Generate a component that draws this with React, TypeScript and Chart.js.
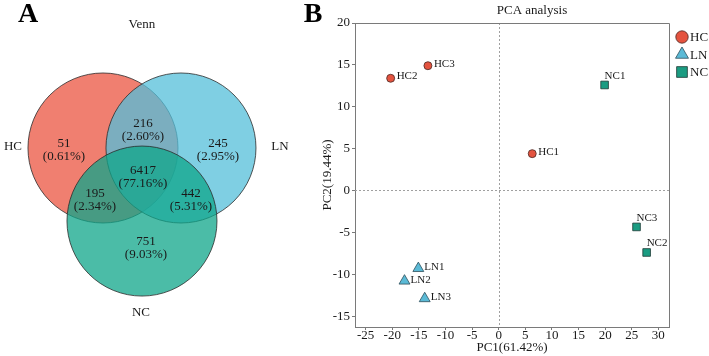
import React, { useEffect, useRef } from 'react';
import { Chart, registerables } from 'chart.js';
import { drawPoint } from 'chart.js/helpers';

Chart.register(...registerables);

const FONT = "'Liberation Serif', 'Times New Roman', serif";
const TEXT = '#1a1a1a';

// ---------------- Venn data ----------------
const vennSets = ['HC', 'LN', 'NC'];
const vennCenterX = [-0.52, 0.52, 0];
const vennCenterY = [0.324, 0.324, -0.65];
const vennRadius = [1, 1, 1];
const vennCounts = [51, 216, 245, 6417, 195, 442, 751];
const vennPercents = ['0.61%', '2.60%', '2.95%', '77.16%', '2.34%', '5.31%', '9.03%'];

// ---------------- PCA data ----------------
const hcNames = ['HC1', 'HC2', 'HC3'];
const hcPC1 = [6.3, -20.3, -13.3];
const hcPC2 = [4.4, 13.4, 14.9];
const lnNames = ['LN1', 'LN2', 'LN3'];
const lnPC1 = [-15.1, -17.7, -13.9];
const lnPC2 = [-9.3, -10.8, -12.9];
const ncNames = ['NC1', 'NC2', 'NC3'];
const ncPC1 = [19.9, 27.8, 25.9];
const ncPC2 = [12.6, -7.4, -4.35];
const xTickStep = 5;
const yTickStep = 5;

// ---------------- layout (positions / styles) ----------------
const vennFill = ['rgba(235,84,64,0.75)', 'rgba(84,191,218,0.75)', 'rgba(15,166,138,0.75)'];
const vennSetLabelPos = [[-1.72, 0.337], [1.84, 0.337], [-0.013, -1.864]];
const vennRegionPos = [
  [-1.04, 0.29], [0.013, 0.564], [1.013, 0.29], [0.013, -0.063],
  [-0.627, -0.369], [0.653, -0.369], [0.053, -1.016],
];

const zip = (xs: number[], ys: number[]) => xs.map((x, i) => ({ x, y: ys[i] }));

function VennChart() {
  const ref = useRef<HTMLCanvasElement>(null);
  useEffect(() => {
    const plugin = {
      id: 'vennText',
      afterDatasetsDraw(chart: any) {
        const { ctx, scales } = chart;
        const X = (v: number) => scales.x.getPixelForValue(v);
        const Y = (v: number) => scales.y.getPixelForValue(v);
        ctx.save();
        ctx.fillStyle = TEXT;
        ctx.textAlign = 'center';
        ctx.textBaseline = 'middle';
        ctx.font = `13px ${FONT}`;
        ctx.fillText('Venn', X(0), Y(1.97));
        vennSets.forEach((s, i) => {
          ctx.fillText(s, X(vennSetLabelPos[i][0]), Y(vennSetLabelPos[i][1]));
        });
        vennCounts.forEach((c, i) => {
          const px = X(vennRegionPos[i][0]);
          const py = Y(vennRegionPos[i][1]);
          ctx.fillText(String(c), px, py - 6.5);
          ctx.fillText(`(${vennPercents[i]})`, px, py + 6.5);
        });
        ctx.font = `bold 28px ${FONT}`;
        ctx.textBaseline = 'alphabetic';
        ctx.fillStyle = '#000';
        ctx.fillText('A', 28, 22);
        ctx.fillText('B', 313, 22);
        ctx.restore();
      },
    };
    const radiusFn = (ctx: any) => {
      const s = ctx.chart.scales.x;
      const r = vennRadius[ctx.dataIndex] ?? 1;
      return Math.abs(s.getPixelForValue(r) - s.getPixelForValue(0));
    };
    const chart = new Chart(ref.current!, {
      type: 'scatter',
      data: {
        datasets: [
          {
            label: 'Venn',
            data: zip(vennCenterX, vennCenterY),
            backgroundColor: vennFill,
            borderColor: '#2b2b2b',
            borderWidth: 0.8,
            pointRadius: radiusFn,
            pointHoverRadius: radiusFn,
          } as any,
        ],
      },
      options: {
        responsive: false,
        animation: false,
        events: [],
        clip: false as any,
        layout: { padding: 0 },
        plugins: { legend: { display: false }, tooltip: { enabled: false }, title: { display: false } },
        scales: {
          x: { type: 'linear', display: false, min: -1.893, max: 2.507 },
          y: { type: 'linear', display: false, min: -2.449, max: 2.297 },
        },
      },
      plugins: [plugin],
    });
    return () => chart.destroy();
  }, []);
  return <canvas ref={ref} width={330} height={356} style={{ position: 'absolute', left: 0, top: 0, width: 330, height: 356 }} />;
}

function PcaChart() {
  const ref = useRef<HTMLCanvasElement>(null);
  useEffect(() => {
    const names = [hcNames, lnNames, ncNames];
    const labelOffset = [[6, -2], [6, -1], [0, -9]];
    const plugin = {
      id: 'pcaExtras',
      beforeDatasetsDraw(chart: any) {
        const { ctx, chartArea: a, scales } = chart;
        const x0 = Math.round(scales.x.getPixelForValue(0)) + 0.5;
        const y0 = Math.round(scales.y.getPixelForValue(0)) + 0.5;
        ctx.save();
        ctx.strokeStyle = '#a0a0a0';
        ctx.lineWidth = 1;
        ctx.setLineDash([2, 2]);
        ctx.beginPath();
        ctx.moveTo(x0, a.top);
        ctx.lineTo(x0, a.bottom);
        ctx.moveTo(a.left, y0);
        ctx.lineTo(a.right, y0);
        ctx.stroke();
        ctx.restore();
      },
      afterDraw(chart: any) {
        const { ctx, chartArea: a } = chart;
        ctx.save();
        // frame
        ctx.strokeStyle = '#7a7a7a';
        ctx.lineWidth = 1;
        ctx.beginPath();
        ctx.moveTo(Math.round(a.left), Math.round(a.top) + 0.5);
        ctx.lineTo(Math.round(a.right) + 0.5, Math.round(a.top) + 0.5);
        ctx.lineTo(Math.round(a.right) + 0.5, Math.round(a.bottom));
        ctx.stroke();
        // title
        ctx.fillStyle = TEXT;
        ctx.font = `13px ${FONT}`;
        ctx.textAlign = 'center';
        ctx.textBaseline = 'middle';
        ctx.fillText('PCA analysis', (a.left + chart.width) / 2, 11);
        // point labels
        ctx.font = `11px ${FONT}`;
        ctx.textAlign = 'left';
        chart.data.datasets.forEach((ds: any, di: number) => {
          const meta = chart.getDatasetMeta(di);
          meta.data.forEach((el: any, i: number) => {
            ctx.fillText(names[di][i], el.x + labelOffset[di][0], el.y + labelOffset[di][1]);
          });
        });
        // legend
        ctx.font = `13px ${FONT}`;
        chart.data.datasets.forEach((ds: any, di: number) => {
          const y = a.top + 14 + di * 17.5;
          const x = a.right + 13;
          ctx.fillStyle = ds.backgroundColor;
          ctx.strokeStyle = ds.borderColor;
          ctx.lineWidth = 0.8;
          drawPoint(ctx, { pointStyle: ds.pointStyle, radius: ds.legendRadius, borderWidth: 0.8, rotation: 0 } as any, x, y);
          ctx.fillStyle = TEXT;
          ctx.fillText(ds.label, a.right + 21, y + 1);
        });
        ctx.restore();
      },
    };
    const tickFont = { family: FONT, size: 13 };
    const chart = new Chart(ref.current!, {
      type: 'scatter',
      data: {
        datasets: [
          { label: 'HC', data: zip(hcPC1, hcPC2), pointStyle: 'circle', pointRadius: 4, backgroundColor: '#E4533F', borderColor: '#4a2a24', borderWidth: 0.8, legendRadius: 6.2 } as any,
          { label: 'LN', data: zip(lnPC1, lnPC2), pointStyle: 'triangle', pointRadius: 6.3, backgroundColor: '#5BBAD6', borderColor: '#2f4f5c', borderWidth: 0.8, legendRadius: 7.5 } as any,
          { label: 'NC', data: zip(ncPC1, ncPC2), pointStyle: 'rect', pointRadius: 5.4, backgroundColor: '#1B9C82', borderColor: '#1f3a35', borderWidth: 0.8, legendRadius: 7.6 } as any,
        ],
      },
      options: {
        responsive: false,
        animation: false,
        events: [],
        layout: { padding: { top: 23, right: 40, left: 0, bottom: 0 } },
        plugins: { legend: { display: false }, tooltip: { enabled: false }, title: { display: false } },
        scales: {
          x: {
            type: 'linear', min: -27, max: 32,
            ticks: { stepSize: xTickStep, includeBounds: false, font: tickFont, color: TEXT, padding: -2, maxRotation: 0 } as any,
            grid: { drawOnChartArea: false, drawTicks: true, tickLength: 3, tickColor: '#7a7a7a', color: '#7a7a7a' },
            border: { color: '#7a7a7a', width: 1 },
            title: { display: true, text: 'PC1(61.42%)', font: tickFont, color: TEXT, padding: { top: 0, bottom: 1 } },
            afterFit: (s: any) => { s.height = 29; },
          },
          y: {
            type: 'linear', min: -16.3, max: 20,
            ticks: { stepSize: yTickStep, includeBounds: false, font: tickFont, color: TEXT, padding: 2 } as any,
            grid: { drawOnChartArea: false, drawTicks: true, tickLength: 3, tickColor: '#7a7a7a', color: '#7a7a7a' },
            border: { color: '#7a7a7a', width: 1 },
            title: { display: true, text: 'PC2(19.44%)', font: tickFont, color: TEXT, padding: { top: 0, bottom: 0 } },
            afterFit: (s: any) => { s.width = 35; },
          },
        },
      },
      plugins: [plugin],
    });
    return () => chart.destroy();
  }, []);
  return <canvas ref={ref} width={389} height={356} style={{ position: 'absolute', left: 320, top: 0, width: 389, height: 356 }} />;
}

export default function App() {
  return (
    <div style={{ position: 'fixed', left: 0, top: 0, width: 709, height: 356, background: '#fff', overflow: 'hidden' }}>
      <VennChart />
      <PcaChart />
    </div>
  );
}
